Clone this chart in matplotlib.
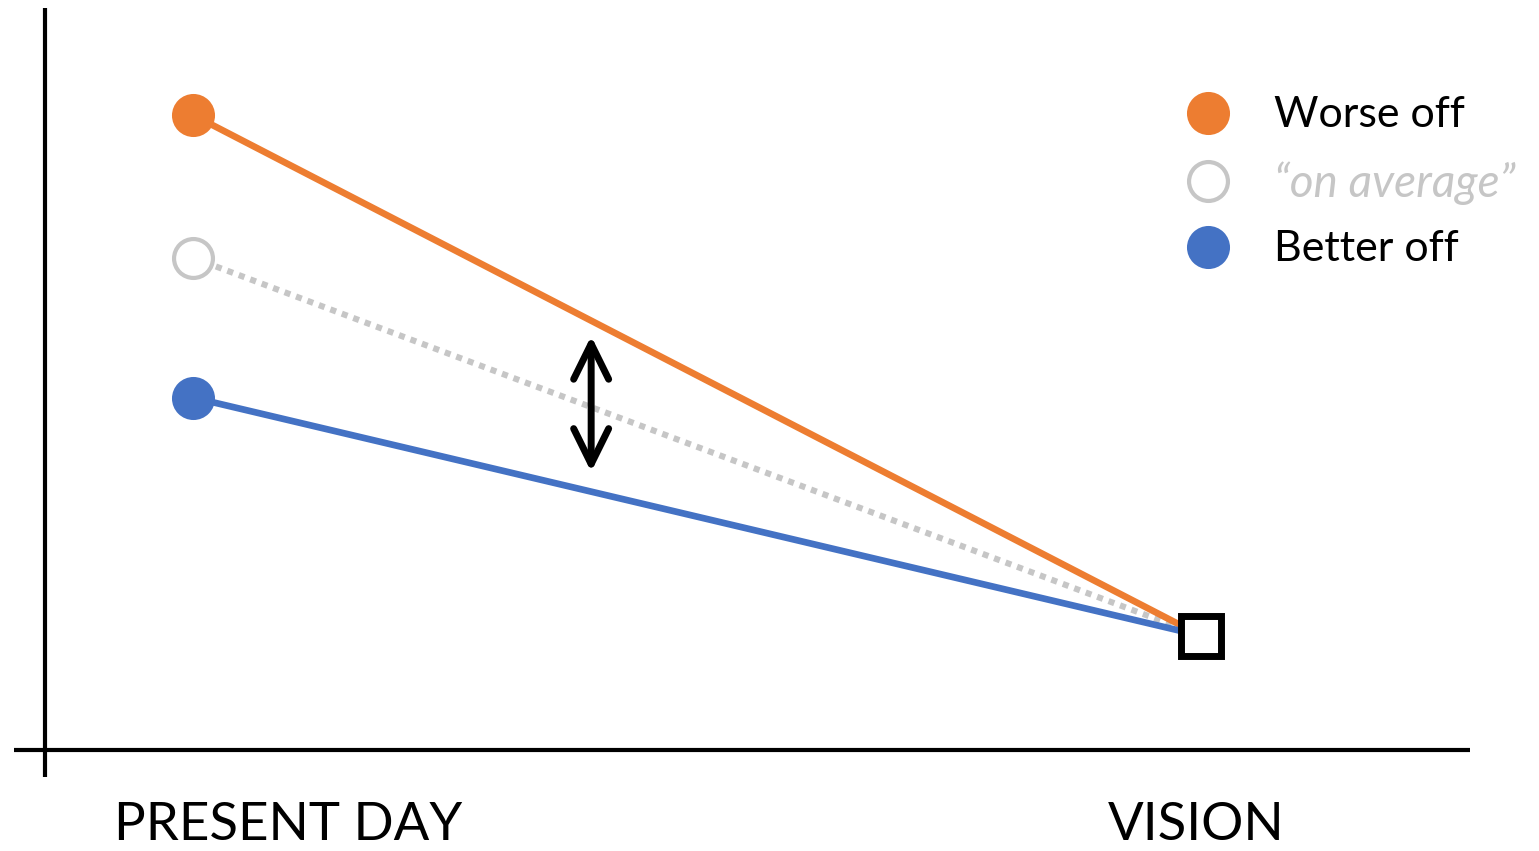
"""Worse off / better off converging toward the vision."""

import matplotlib
matplotlib.use("Agg")
import matplotlib.pyplot as plt
from matplotlib.lines import Line2D

# data: x = 0 present day, x = 1 vision (arbitrary units)
stages = ["PRESENT DAY", "VISION"]
stage_x = [0.0, 1.0]
worse_off = [10.0, 1.8]
on_average = [7.75, 1.8]
better_off = [5.55, 1.8]
gap_x = 0.395
gap_span = [4.38, 6.52]
legend_labels = ["Worse off", "\u201con average\u201d", "Better off"]

ORANGE = "#ED7D31"
BLUE = "#4472C4"
GREY = "#C6C6C6"

plt.rcParams["font.family"] = ["Lato", "DejaVu Sans"]

W, H, DPI = 1539, 851, 100
fig = plt.figure(figsize=(W / DPI, H / DPI), dpi=DPI)
ax = fig.add_axes([0, 0, 1, 1])
ax.set_axis_off()

# map data -> pixels: x 0 -> 193px, x 1 -> 1201px; y 0 -> 750px from top, 1 unit = 63.5px
xs, x0 = 1008.0, 193.0
ys, y0 = 63.5, 750.0
ax.set_xlim(-x0 / xs, (W - x0) / xs)
ax.set_ylim(-(H - y0) / ys, y0 / ys)

# axis lines
ax.plot([(45 - x0) / xs] * 2, [(y0 - 8) / ys, (y0 - 777) / ys], color="black", lw=3.0,
        solid_capstyle="butt")
ax.plot([(14 - x0) / xs, (1470 - x0) / xs], [0, 0], color="black", lw=3.0,
        solid_capstyle="butt")

# series
ax.plot(stage_x, on_average, color=GREY, lw=4.4, dashes=(1, 1), dash_capstyle="butt",
        marker="o", markevery=[0], ms=28, mfc="white", mec=GREY, mew=3.0, zorder=2)
ax.plot(stage_x, worse_off, color=ORANGE, lw=4.8, solid_capstyle="butt",
        marker="o", markevery=[0], ms=31, mfc=ORANGE, mec=ORANGE, mew=0, zorder=3)
ax.plot(stage_x, better_off, color=BLUE, lw=4.8, solid_capstyle="butt",
        marker="o", markevery=[0], ms=31, mfc=BLUE, mec=BLUE, mew=0, zorder=4)
ax.plot(stage_x[1], worse_off[1], marker="s", ms=29, mfc="white", mec="black",
        mew=5.0, linestyle="none", zorder=5)

# gap arrow
ax.annotate("", xy=(gap_x, gap_span[1]), xytext=(gap_x, gap_span[0]),
            arrowprops=dict(arrowstyle="<->,head_length=0.85,head_width=0.42",
                            color="black", lw=5.0, shrinkA=0, shrinkB=0,
                            mutation_scale=30, capstyle="round", joinstyle="round"))

# legend (manual)
leg_y = [113, 181, 247]
leg_marker_x = 1208
leg_text_x = 1274
leg_styles = [
    dict(mfc=ORANGE, mec=ORANGE, mew=0, ms=31),
    dict(mfc="white", mec=GREY, mew=3.0, ms=28),
    dict(mfc=BLUE, mec=BLUE, mew=0, ms=31),
]
leg_text = [dict(color="black", style="normal", fontsize=31),
            dict(color=GREY, style="italic", fontsize=33),
            dict(color="black", style="normal", fontsize=31)]
for yy, lab, ms_kw, tx_kw in zip(leg_y, legend_labels, leg_styles, leg_text):
    fig.add_artist(Line2D([leg_marker_x / W], [1 - yy / H], marker="o",
                          linestyle="none", transform=fig.transFigure, **ms_kw))
    fig.text(leg_text_x / W, 1 - (yy + 2) / H, lab, va="center", ha="left", **tx_kw)

# stage labels
fig.text(288 / W, 1 - 826 / H, stages[0], fontsize=38, ha="center", va="center")
fig.text(1196 / W, 1 - 826 / H, stages[1], fontsize=38, ha="center", va="center")

fig.savefig("out.png", dpi=DPI)
